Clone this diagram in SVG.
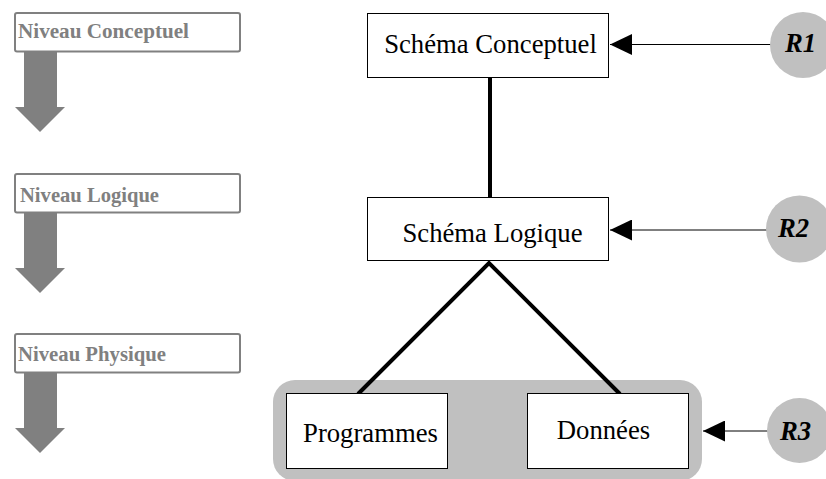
<svg xmlns="http://www.w3.org/2000/svg" width="826" height="479" viewBox="0 0 826 479">
  <style>
    .lvl-box { fill: #ffffff; stroke: #808080; stroke-width: 2; }
    .lvl-text { font-family: "Liberation Serif", "Times New Roman", serif; font-weight: bold; font-size: 20px; fill: #808080; }
    .lvl-arrow { fill: #808080; }
    .node { fill: #ffffff; stroke: #000000; stroke-width: 1; }
    .node-text { font-family: "Liberation Serif", "Times New Roman", serif; font-size: 26.7px; fill: #000000; text-anchor: middle; }
    .ref { fill: #c0c0c0; }
    .ref-text { font-family: "Liberation Serif", "Times New Roman", serif; font-weight: bold; font-style: italic; font-size: 26.7px; fill: #000000; }
    .link { stroke: #000000; stroke-width: 4; fill: none; }
    .ref-link { stroke: #000000; stroke-width: 1; fill: none; marker-end: url(#head); }
  </style>
  <defs>
    <marker id="head" markerUnits="userSpaceOnUse" markerWidth="22" markerHeight="21" viewBox="0 0 22 21" refX="22" refY="10.5" orient="auto">
      <path d="M0,0 L22,10.5 L0,21 Z" fill="#000000"/>
    </marker>
    <path id="down-arrow" class="lvl-arrow" d="M24,52 H57 V107 H65 L40,132 L15,107 H24 Z"/>
  </defs>

  <rect width="826" height="479" fill="#ffffff"/>

  <!-- level column -->
  <g id="level-conceptual">
    <use href="#down-arrow"/>
    <rect class="lvl-box" x="15" y="13" width="225" height="38.5" rx="2"/>
    <text class="lvl-text" x="18" y="37.5" textLength="171" lengthAdjust="spacingAndGlyphs">Niveau Conceptuel</text>
  </g>
  <g id="level-logical">
    <use href="#down-arrow" transform="translate(0,161)"/>
    <rect class="lvl-box" x="15" y="174" width="225" height="38.5" rx="2"/>
    <text class="lvl-text" x="20" y="201.5" textLength="139" lengthAdjust="spacingAndGlyphs">Niveau Logique</text>
  </g>
  <g id="level-physical">
    <use href="#down-arrow" transform="translate(0,321)"/>
    <rect class="lvl-box" x="15" y="334" width="225" height="38.5" rx="2"/>
    <text class="lvl-text" x="18" y="361" textLength="148" lengthAdjust="spacingAndGlyphs">Niveau Physique</text>
  </g>

  <!-- physical tier container -->
  <g id="physical-tier">
    <rect class="ref" x="273" y="380" width="429" height="101" rx="22"/>
  </g>

  <!-- connectors -->
  <g id="connectors">
    <line class="link" x1="490" y1="77" x2="490" y2="197"/>
    <polyline class="link" points="358,394 489,263 620,394" stroke-linejoin="miter"/>
    <line class="ref-link" x1="771" y1="44.5" x2="610" y2="44.5"/>
    <line class="ref-link" x1="767" y1="230" x2="610" y2="230"/>
    <line class="ref-link" x1="768" y1="431" x2="703" y2="431"/>
  </g>

  <!-- schema nodes -->
  <g id="schema-conceptuel">
    <rect class="node" x="367.5" y="13.5" width="241" height="64"/>
    <text class="node-text" x="490.5" y="53">Schéma Conceptuel</text>
  </g>
  <g id="schema-logique">
    <rect class="node" x="367.5" y="197.5" width="241" height="63"/>
    <text class="node-text" x="492.5" y="242">Schéma Logique</text>
  </g>
  <g id="programmes">
    <rect class="node" x="286.5" y="393.5" width="161" height="75"/>
    <text class="node-text" x="370.5" y="442">Programmes</text>
  </g>
  <g id="donnees">
    <rect class="node" x="527.5" y="393.5" width="161" height="75"/>
    <text class="node-text" x="603.5" y="439">Données</text>
  </g>

  <!-- reference circles -->
  <g id="r1">
    <circle class="ref" cx="803" cy="45" r="33"/>
    <text class="ref-text" x="785" y="52">R1</text>
  </g>
  <g id="r2">
    <circle class="ref" cx="799.5" cy="229" r="33.5"/>
    <text class="ref-text" x="778" y="236.5">R2</text>
  </g>
  <g id="r3">
    <circle class="ref" cx="799.5" cy="430.5" r="32.5"/>
    <text class="ref-text" x="780" y="439.5">R3</text>
  </g>
</svg>
